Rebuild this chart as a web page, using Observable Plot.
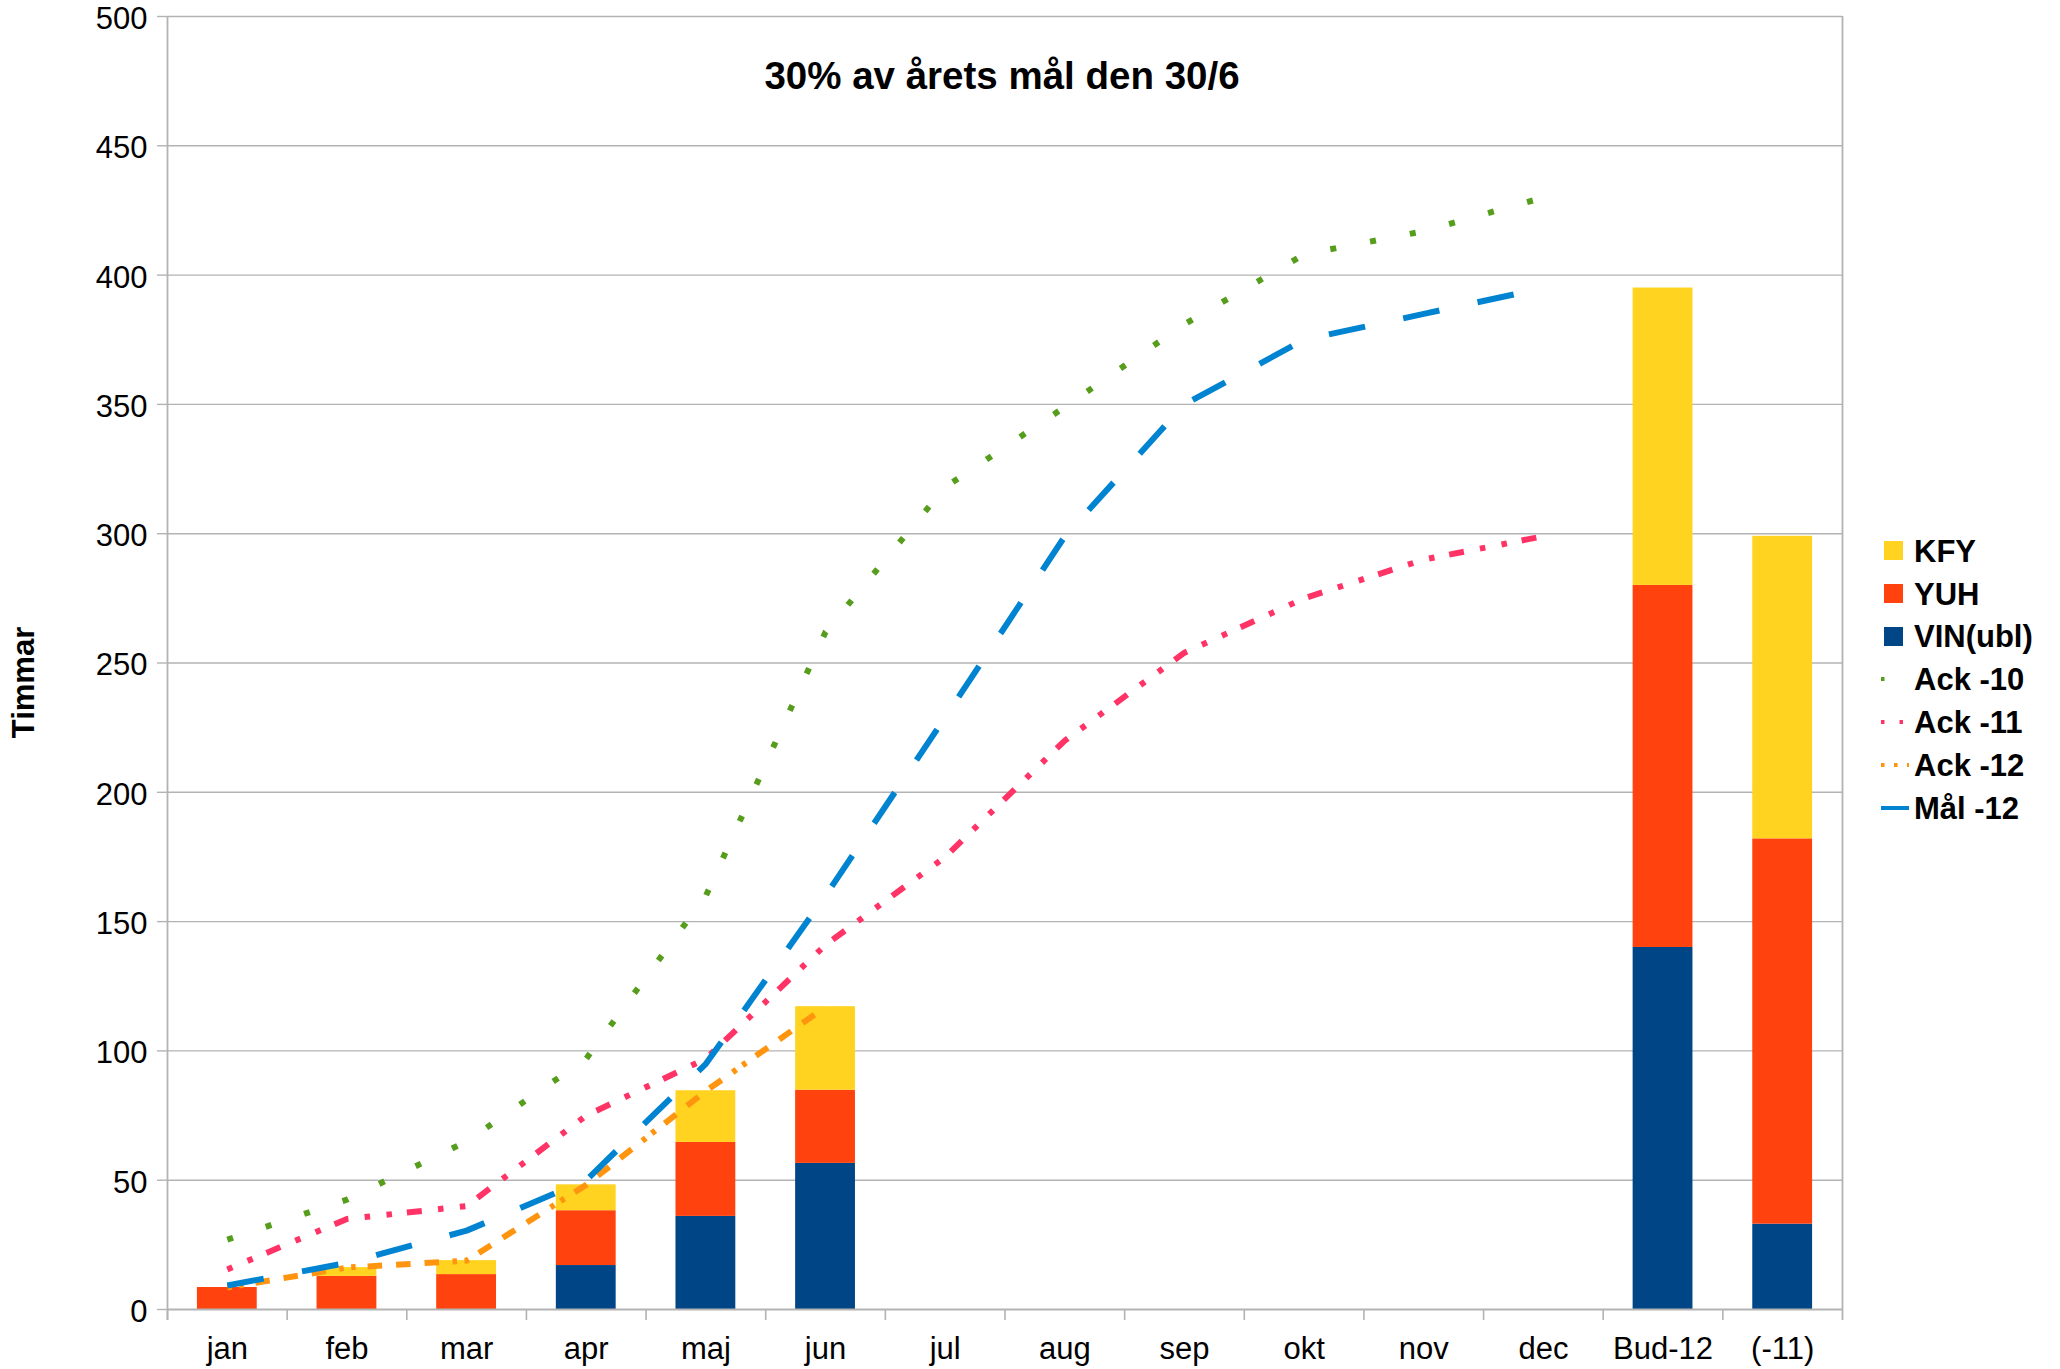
<!DOCTYPE html>
<html><head><meta charset="utf-8">
<script src="https://cdn.jsdelivr.net/npm/d3@7"></script>
<script src="https://cdn.jsdelivr.net/npm/@observablehq/plot@0.6"></script>
<style>
body{margin:0;background:#fff;}
#wrap{position:relative;width:2060px;height:1369px;font-family:"Liberation Sans",Arial,sans-serif;background:#fff;overflow:hidden;}
#wrap svg{position:absolute;left:0;top:0;}
.lg{position:absolute;font-weight:bold;font-size:31px;line-height:31px;color:#000;transform:translateY(-50%);white-space:nowrap;}
.sw{position:absolute;}
</style></head><body><div id="wrap"></div>
<script>
// ---- data ----
const months = ["jan","feb","mar","apr","maj","jun","jul","aug","sep","okt","nov","dec"];
const categories = ["jan","feb","mar","apr","maj","jun","jul","aug","sep","okt","nov","dec","Bud-12","(-11)"];
const barSeries = ["VIN(ubl)","YUH","KFY"];
const vin = [0, 0, 0, 17, 36, 56.5, 0, 0, 0, 0, 0, 0, 140, 33];
const yuh = [8.5, 12.8, 13.5, 21.2, 28.6, 28.3, 0, 0, 0, 0, 0, 0, 140, 149];
const kfy = [0, 3.4, 5.4, 10, 20, 32.3, 0, 0, 0, 0, 0, 0, 115, 117];
const ack10 = [27, 42.5, 65, 97, 160, 262, 318, 349, 381, 408, 417, 430];
const ack11 = [15.5, 35, 40, 75, 97, 141, 175, 220, 254, 275, 290, 299];
const ack12 = [8.5, 16.2, 18.9, 48.2, 84.5, 117];
const mal12 = [9.3, 18, 30.5, 50, 95, 160, 229, 299, 350, 375, 385, 395];
const yTicks = [0, 50, 100, 150, 200, 250, 300, 350, 400, 450, 500];
const title = "30% av årets mål den 30/6";
const yLabel = "Timmar";
const legendLabels = ["KFY", "YUH", "VIN(ubl)", "Ack -10", "Ack -11", "Ack -12", "Mål -12"];

// ---- styles ----
const W = 2060, H = 1369, mL = 167, mR = 218, mT = 16, mB = 60;
const step = (W - mL - mR) / categories.length;
const barColors = ["#004586", "#ff420e", "#ffd320"];
const grid = "#b3b3b3";
const lineStyles = {
  "Ack -10": {stroke: "#579d1c", strokeWidth: 6, dash: "6,34.5"},
  "Ack -11": {stroke: "#ff3366", strokeWidth: 6, dash: "5.5,16.5,5.5,15,15,16.3"},
  "Ack -12": {stroke: "#ff950e", strokeWidth: 6, dash: "4.5,7.5,4.5,12,14.5,14,14.5,14,14.5,13.5"},
  "Mål -12": {stroke: "#0084d1", strokeWidth: 6, dash: "37,39"}
};

const barTable = categories.flatMap((c, i) => [
  {month: c, series: barSeries[0], value: vin[i]},
  {month: c, series: barSeries[1], value: yuh[i]},
  {month: c, series: barSeries[2], value: kfy[i]}
]);
const series = (vals) => vals.map((v, i) => ({month: months[i], v}));
const lineMark = (name, vals) => {
  const s = lineStyles[name];
  return Plot.line(series(vals), {x: "month", y: "v", stroke: s.stroke, strokeWidth: s.strokeWidth,
    strokeDasharray: s.dash, strokeLinecap: "butt", strokeLinejoin: "round"});
};

const chart = Plot.plot({
  width: W, height: H,
  marginLeft: mL, marginRight: mR, marginTop: mT, marginBottom: mB,
  style: {fontFamily: "'Liberation Sans', Arial, sans-serif", color: "#000", background: "transparent", overflow: "visible"},
  x: {domain: categories, paddingInner: 0.5, paddingOuter: 0.25, align: 0.5, round: false, label: null},
  y: {domain: [0, 500], label: null},
  color: {domain: barSeries, range: barColors},
  marks: [
    Plot.ruleY(yTicks.slice(1), {stroke: grid, strokeWidth: 1.4}),
    Plot.axisY({ticks: yTicks, tickSize: 10, stroke: grid, strokeWidth: 1.4, text: null, label: null}),
    Plot.axisY({ticks: yTicks, tickSize: 0, tickPadding: 20, dy: 2.5, fontSize: 31, fill: "#000", label: null}),
    Plot.axisX({tickSize: 0, tickPadding: 27, fontSize: 31, fill: "#000", label: null}),
    // ticks between categories, below the baseline
    Plot.ruleX(categories, {x: d => d, dx: -step / 2, y1: 0, y2: 0, insetBottom: -11, stroke: grid, strokeWidth: 1.6}),
    // left axis line and right frame line
    Plot.ruleX([categories[0]], {x: d => d, dx: -step / 2, y1: 500, y2: 0, insetBottom: -11, stroke: grid, strokeWidth: 1.8}),
    Plot.ruleX([categories[categories.length - 1]], {x: d => d, dx: step / 2, y1: 500, y2: 0, insetBottom: -11, stroke: grid, strokeWidth: 1.8}),
    Plot.barY(barTable, {x: "month", y: "value", fill: "series", order: barSeries}),
    Plot.ruleY([0], {stroke: grid, strokeWidth: 2}),
    lineMark("Ack -10", ack10),
    lineMark("Ack -11", ack11),
    lineMark("Ack -12", ack12),
    lineMark("Mål -12", mal12),
    Plot.text([title], {frameAnchor: "top", lineAnchor: "top", textAnchor: "middle", dy: 45, dx: -3, fontSize: 38.5, fontWeight: "bold", fill: "#000"}),
    Plot.text([yLabel], {frameAnchor: "left", textAnchor: "middle", dx: 24 - mL, dy: 19.5, rotate: -90, fontSize: 31, fontWeight: "bold", fill: "#000"})
  ]
});

const wrap = document.getElementById("wrap");
wrap.appendChild(chart);

// ---- legend ----
const rowY0 = 550.7, rowGap = 42.8;
const swatchFill = {"KFY": barColors[2], "YUH": barColors[1], "VIN(ubl)": barColors[0]};
const legendDash = {"Ack -10": "3.5,40", "Ack -11": "3.5,15", "Ack -12": "3.5,9.5", "Mål -12": null};
legendLabels.forEach((lab, i) => {
  const cy = rowY0 + i * rowGap;
  if (swatchFill[lab]) {
    const d = document.createElement("div");
    d.className = "sw";
    Object.assign(d.style, {left: "1884px", top: (cy - 9.6) + "px", width: "19.3px", height: "19.3px", background: swatchFill[lab]});
    wrap.appendChild(d);
  } else {
    const s = lineStyles[lab];
    const ns = "http://www.w3.org/2000/svg";
    const svg = document.createElementNS(ns, "svg");
    svg.setAttribute("width", 34); svg.setAttribute("height", 10);
    svg.style.position = "absolute"; svg.style.left = "1878px"; svg.style.top = (cy - 5) + "px";
    const ln = document.createElementNS(ns, "line");
    ln.setAttribute("x1", 3); ln.setAttribute("x2", 31); ln.setAttribute("y1", 5); ln.setAttribute("y2", 5);
    ln.setAttribute("stroke", s.stroke); ln.setAttribute("stroke-width", 4);
    if (legendDash[lab]) ln.setAttribute("stroke-dasharray", legendDash[lab]);
    svg.appendChild(ln);
    wrap.appendChild(svg);
  }
  const t = document.createElement("div");
  t.className = "lg";
  t.textContent = lab;
  t.style.left = "1914px";
  t.style.top = cy + "px";
  wrap.appendChild(t);
});
</script>
</body></html>
